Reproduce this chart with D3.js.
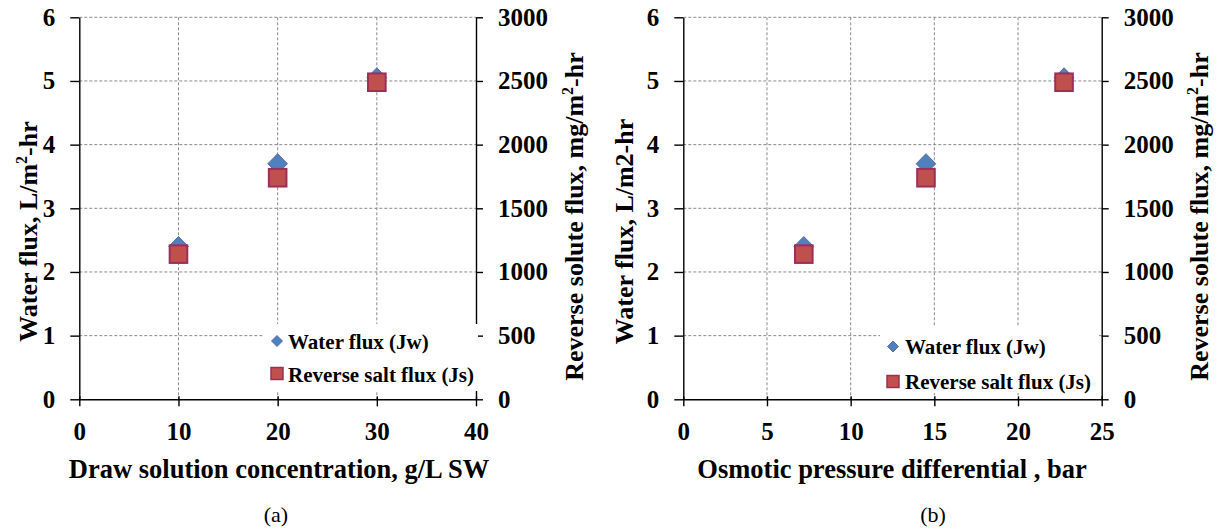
<!DOCTYPE html>
<html>
<head>
<meta charset="utf-8">
<script src="https://cdn.jsdelivr.net/npm/d3@7"></script>
<style>
  html, body { margin: 0; padding: 0; background: #fff; }
  svg { display: block; }
  text { font-family: "Liberation Serif", "Times New Roman", Tinos, serif; }
</style>
</head>
<body>
<svg id="chart" width="1219" height="532"></svg>
<script>
// ---------- data ----------
const drawConc = [10, 20, 30];            // g/L SW (panel a)
const osmoticDiff = [7.2, 14.5, 22.75];   // bar (panel b)
const waterFlux = [2.40, 3.70, 5.05];     // L/m2-hr (left axis)
const saltFlux = [1140, 1740, 2490];      // mg/m2-hr (right axis)
const leftTicks = [0, 1, 2, 3, 4, 5, 6];
const rightTicks = [0, 500, 1000, 1500, 2000, 2500, 3000];
const xTicksA = [0, 10, 20, 30, 40];
const xTicksB = [0, 5, 10, 15, 20, 25];
const legendLabels = ["Water flux (Jw)", "Reverse salt flux (Js)"];

const svg = d3.select("#chart");
const plotTop = 17.3, plotBottom = 399.3;
const fmt = d3.format("d");

const panels = [
  { x0: 79.3, x1: 476, xticks: xTicksA, xs: drawConc,
    xTitle: "Draw solution concentration, g/L SW", xTitleX: 279,
    leftTitle: ["Water flux, L/m", "2", "-hr"], leftTitleX: 37,
    rightTitleX: 583, caption: "(a)", captionX: 276,
    legend: { x: 263, y: 324, w: 215, h: 67, mx: 277, tx: 288, y1: 341, y2: 373.5, b1: 349, b2: 381.5 } },
  { x0: 683.3, x1: 1101.7, xticks: xTicksB, xs: osmoticDiff,
    xTitle: "Osmotic pressure differential , bar", xTitleX: 892,
    leftTitle: ["Water flux, L/m2-hr"], leftTitleX: 633,
    rightTitleX: 1208, caption: "(b)", captionX: 933,
    legend: { x: 880, y: 327, w: 219, h: 66, mx: 893, tx: 905, y1: 346.5, y2: 381.5, b1: 353.5, b2: 388.5 } }
];

panels.forEach(p => {
  const x = d3.scaleLinear().domain([p.xticks[0], p.xticks[p.xticks.length - 1]]).range([p.x0, p.x1]);
  const y = d3.scaleLinear().domain([0, 6]).range([plotBottom, plotTop]);
  const y2 = d3.scaleLinear().domain([0, 3000]).range([plotBottom, plotTop]);
  const g = svg.append("g");

  // gridlines
  g.append("g").selectAll("line").data(leftTicks.slice(1)).join("line")
    .attr("x1", p.x0).attr("x2", p.x1)
    .attr("y1", d => y(d)).attr("y2", d => y(d))
    .attr("stroke", "#8a8a8a").attr("stroke-width", 1).attr("stroke-dasharray", "3,2");
  g.append("g").selectAll("line").data(p.xticks.slice(1, -1)).join("line")
    .attr("x1", d => x(d)).attr("x2", d => x(d))
    .attr("y1", plotTop).attr("y2", plotBottom)
    .attr("stroke", "#8a8a8a").attr("stroke-width", 1).attr("stroke-dasharray", "3,2");

  // left axis
  const la = g.append("g").attr("transform", `translate(${p.x0},0)`)
    .call(d3.axisLeft(y).tickValues(leftTicks).tickFormat(fmt).tickSizeInner(9).tickSizeOuter(0).tickPadding(15));
  // right axis
  const ra = g.append("g").attr("transform", `translate(${p.x1},0)`)
    .call(d3.axisRight(y2).tickValues(rightTicks).tickFormat(fmt).tickSizeInner(7).tickSizeOuter(0).tickPadding(15));
  // bottom axis
  const ba = g.append("g").attr("transform", `translate(0,${plotBottom})`)
    .call(d3.axisBottom(x).tickValues(p.xticks).tickFormat(fmt).tickSizeInner(7).tickSizeOuter(0).tickPadding(16));
  ba.selectAll(".tick line").attr("y1", -3);

  [la, ra, ba].forEach(a => {
    a.attr("font-family", null).attr("font-size", null);
    a.select(".domain").attr("stroke", "#000").attr("stroke-width", 1.4);
    a.selectAll(".tick line").attr("stroke", "#000").attr("stroke-width", 1.4);
    a.selectAll(".tick text").attr("fill", "#000")
      .style("font-family", '"Liberation Serif", "Times New Roman", serif')
      .style("font-weight", "bold").style("font-size", "25px");
  });

  // markers: diamonds (water flux), then squares (salt flux)
  const dh = 10, dw = 9.8;
  g.append("g").selectAll("path").data(p.xs.map((v, i) => [v, waterFlux[i]])).join("path")
    .attr("d", d => {
      const cx = x(d[0]), cy = y(d[1]);
      return `M${cx},${cy - dh}L${cx + dw},${cy}L${cx},${cy + dh}L${cx - dw},${cy}Z`;
    })
    .attr("fill", "#4F81BD").attr("stroke", "#5B6AA6").attr("stroke-width", 1);
  const sq = 17.6;
  g.append("g").selectAll("rect").data(p.xs.map((v, i) => [v, saltFlux[i]])).join("rect")
    .attr("x", d => x(d[0]) - sq / 2).attr("y", d => y2(d[1]) - sq / 2)
    .attr("width", sq).attr("height", sq)
    .attr("fill", "#C0504D").attr("stroke", "#9B2F5A").attr("stroke-width", 2);

  // legend
  const L = p.legend;
  const lg = g.append("g");
  lg.append("rect").attr("x", L.x).attr("y", L.y).attr("width", L.w).attr("height", L.h).attr("fill", "#fff");
  const ld = 5.5;
  lg.append("path")
    .attr("d", `M${L.mx},${L.y1 - ld}L${L.mx + ld},${L.y1}L${L.mx},${L.y1 + ld}L${L.mx - ld},${L.y1}Z`)
    .attr("fill", "#4F81BD").attr("stroke", "#5B6AA6").attr("stroke-width", 1);
  lg.append("rect").attr("x", L.mx - 6).attr("y", L.y2 - 6).attr("width", 12).attr("height", 12)
    .attr("fill", "#C0504D").attr("stroke", "#9B2F5A").attr("stroke-width", 1.5);
  lg.append("text").attr("x", L.tx).attr("y", L.b1).text(legendLabels[0])
    .attr("font-weight", "bold").attr("font-size", 21);
  lg.append("text").attr("x", L.tx).attr("y", L.b2).text(legendLabels[1])
    .attr("font-weight", "bold").attr("font-size", 21);

  // x title
  g.append("text").attr("x", p.xTitleX).attr("y", 478).attr("text-anchor", "middle")
    .attr("font-weight", "bold").attr("font-size", 26.5).text(p.xTitle);

  // left title
  const lt = g.append("text")
    .attr("transform", `translate(${p.leftTitleX},231.5) rotate(-90)`)
    .attr("text-anchor", "middle").attr("font-weight", "bold").attr("font-size", 26);
  if (p.leftTitle.length === 3) {
    lt.append("tspan").text(p.leftTitle[0]);
    lt.append("tspan").attr("dy", -10).attr("font-size", 16).text(p.leftTitle[1]);
    lt.append("tspan").attr("dy", 10).text(p.leftTitle[2]);
  } else {
    lt.text(p.leftTitle[0]);
  }

  // right title
  const rt = g.append("text")
    .attr("transform", `translate(${p.rightTitleX},216.5) rotate(-90)`)
    .attr("text-anchor", "middle").attr("font-weight", "bold").attr("font-size", 26);
  rt.append("tspan").text("Reverse solute flux, mg/m");
  rt.append("tspan").attr("dy", -10).attr("font-size", 16).text("2");
  rt.append("tspan").attr("dy", 10).text("-hr");

  // caption
  g.append("text").attr("x", p.captionX).attr("y", 522).attr("text-anchor", "middle")
    .attr("font-size", 22).text(p.caption);
});
</script>
</body>
</html>
